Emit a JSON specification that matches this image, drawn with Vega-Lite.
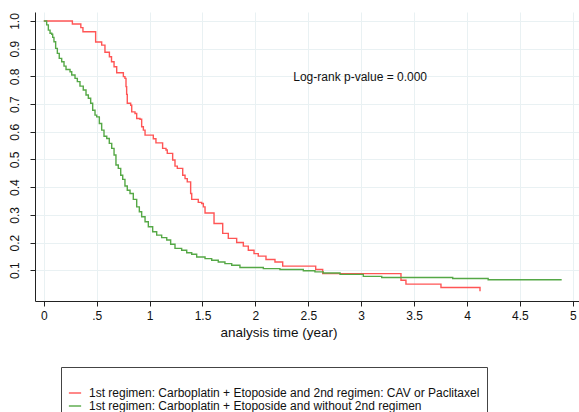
{
  "$schema": "https://vega.github.io/schema/vega-lite/v6.json",
  "width": 544,
  "height": 289,
  "autosize": "none",
  "padding": {"left": 35, "top": 12, "right": 0, "bottom": 111},
  "background": "white",
  "config": {
    "font": "Liberation Sans",
    "view": {"stroke": null},
    "axis": {
      "gridColor": "#e9f1f3", "gridWidth": 1, "domainColor": "#222", "tickColor": "#222",
      "labelColor": "#111", "titleColor": "#111", "labelFont": "Liberation Sans", "titleFont": "Liberation Sans"
    }
  },
  "layer": [
    {
      "data": {"values": [
        {"g":"A","t":0,"s":1.0},{"g":"A","t":0.27,"s":0.989},{"g":"A","t":0.35,"s":0.976},{"g":"A","t":0.37,"s":0.961},
        {"g":"A","t":0.49,"s":0.924},{"g":"A","t":0.547,"s":0.913},{"g":"A","t":0.578,"s":0.887},{"g":"A","t":0.62,"s":0.871},
        {"g":"A","t":0.64,"s":0.853},{"g":"A","t":0.664,"s":0.835},{"g":"A","t":0.689,"s":0.813},{"g":"A","t":0.752,"s":0.799},
        {"g":"A","t":0.767,"s":0.793},{"g":"A","t":0.777,"s":0.763},{"g":"A","t":0.783,"s":0.735},{"g":"A","t":0.789,"s":0.703},
        {"g":"A","t":0.821,"s":0.696},{"g":"A","t":0.831,"s":0.672},{"g":"A","t":0.862,"s":0.666},{"g":"A","t":0.878,"s":0.648},
        {"g":"A","t":0.909,"s":0.645},{"g":"A","t":0.925,"s":0.618},{"g":"A","t":0.941,"s":0.606},{"g":"A","t":0.957,"s":0.588},
        {"g":"A","t":1.035,"s":0.575},{"g":"A","t":1.06,"s":0.56},{"g":"A","t":1.123,"s":0.54},{"g":"A","t":1.155,"s":0.534},
        {"g":"A","t":1.167,"s":0.522},{"g":"A","t":1.218,"s":0.498},{"g":"A","t":1.24,"s":0.476},{"g":"A","t":1.262,"s":0.468},
        {"g":"A","t":1.313,"s":0.443},{"g":"A","t":1.335,"s":0.431},{"g":"A","t":1.356,"s":0.419},{"g":"A","t":1.388,"s":0.377},
        {"g":"A","t":1.398,"s":0.356},{"g":"A","t":1.46,"s":0.345},{"g":"A","t":1.492,"s":0.341},{"g":"A","t":1.508,"s":0.329},
        {"g":"A","t":1.524,"s":0.307},{"g":"A","t":1.609,"s":0.269},{"g":"A","t":1.691,"s":0.233},{"g":"A","t":1.744,"s":0.215},
        {"g":"A","t":1.823,"s":0.2},{"g":"A","t":1.886,"s":0.187},{"g":"A","t":1.933,"s":0.172},{"g":"A","t":1.987,"s":0.16},
        {"g":"A","t":2.027,"s":0.151},{"g":"A","t":2.1,"s":0.139},{"g":"A","t":2.185,"s":0.13},{"g":"A","t":2.258,"s":0.115},
        {"g":"A","t":2.57,"s":0.103},{"g":"A","t":2.636,"s":0.088},{"g":"A","t":3.376,"s":0.064},{"g":"A","t":3.423,"s":0.05},
        {"g":"A","t":3.754,"s":0.038},{"g":"A","t":4.123,"s":0.024},
        {"g":"B","t":0,"s":1.0},{"g":"B","t":0.027,"s":0.986},{"g":"B","t":0.043,"s":0.967},{"g":"B","t":0.059,"s":0.956},
        {"g":"B","t":0.075,"s":0.952},{"g":"B","t":0.084,"s":0.941},{"g":"B","t":0.096,"s":0.925},{"g":"B","t":0.112,"s":0.901},
        {"g":"B","t":0.128,"s":0.883},{"g":"B","t":0.146,"s":0.865},{"g":"B","t":0.169,"s":0.853},{"g":"B","t":0.191,"s":0.837},
        {"g":"B","t":0.21,"s":0.825},{"g":"B","t":0.248,"s":0.817},{"g":"B","t":0.264,"s":0.805},{"g":"B","t":0.295,"s":0.793},
        {"g":"B","t":0.317,"s":0.781},{"g":"B","t":0.342,"s":0.765},{"g":"B","t":0.373,"s":0.751},{"g":"B","t":0.399,"s":0.733},
        {"g":"B","t":0.421,"s":0.721},{"g":"B","t":0.443,"s":0.703},{"g":"B","t":0.462,"s":0.678},{"g":"B","t":0.484,"s":0.66},
        {"g":"B","t":0.5,"s":0.654},{"g":"B","t":0.525,"s":0.63},{"g":"B","t":0.547,"s":0.606},{"g":"B","t":0.569,"s":0.584},
        {"g":"B","t":0.595,"s":0.576},{"g":"B","t":0.619,"s":0.558},{"g":"B","t":0.642,"s":0.54},{"g":"B","t":0.664,"s":0.516},
        {"g":"B","t":0.682,"s":0.48},{"g":"B","t":0.704,"s":0.468},{"g":"B","t":0.727,"s":0.443},{"g":"B","t":0.746,"s":0.428},
        {"g":"B","t":0.767,"s":0.404},{"g":"B","t":0.789,"s":0.389},{"g":"B","t":0.815,"s":0.377},{"g":"B","t":0.846,"s":0.356},
        {"g":"B","t":0.878,"s":0.329},{"g":"B","t":0.903,"s":0.311},{"g":"B","t":0.925,"s":0.293},{"g":"B","t":0.957,"s":0.275},
        {"g":"B","t":0.988,"s":0.257},{"g":"B","t":1.029,"s":0.239},{"g":"B","t":1.067,"s":0.227},{"g":"B","t":1.114,"s":0.218},
        {"g":"B","t":1.162,"s":0.209},{"g":"B","t":1.199,"s":0.194},{"g":"B","t":1.24,"s":0.179},{"g":"B","t":1.303,"s":0.172},
        {"g":"B","t":1.351,"s":0.163},{"g":"B","t":1.398,"s":0.158},{"g":"B","t":1.445,"s":0.148},{"g":"B","t":1.524,"s":0.142},
        {"g":"B","t":1.587,"s":0.136},{"g":"B","t":1.649,"s":0.13},{"g":"B","t":1.712,"s":0.124},{"g":"B","t":1.776,"s":0.118},
        {"g":"B","t":1.854,"s":0.11},{"g":"B","t":2.075,"s":0.106},{"g":"B","t":2.232,"s":0.103},{"g":"B","t":2.453,"s":0.098},
        {"g":"B","t":2.563,"s":0.094},{"g":"B","t":2.642,"s":0.09},{"g":"B","t":2.8,"s":0.085},{"g":"B","t":3.02,"s":0.078},
        {"g":"B","t":3.194,"s":0.074},{"g":"B","t":3.865,"s":0.07},{"g":"B","t":4.2,"s":0.066},{"g":"B","t":4.895,"s":0.066}
      ]},
      "mark": {"type": "line", "interpolate": "step-after", "strokeWidth": 1.4},
      "encoding": {
        "x": {
          "field": "t", "type": "quantitative",
          "scale": {"domain": [-0.0832, 5.0587], "nice": false, "zero": false},
          "axis": {
            "values": [0, 0.5, 1, 1.5, 2, 2.5, 3, 3.5, 4, 4.5, 5], "tickCount": 20,
            "labelExpr": "datum.value == 0.5 ? '.5' : format(datum.value, '~g')",
            "labelOverlap": false, "labelFlush": false,
            "title": "analysis time (year)", "titleFontSize": 13.5, "titleFontWeight": "normal",
            "titleX": 243.5, "titleY": 31.5, "titleBaseline": "middle", "titleAlign": "center",
            "labelFontSize": 12, "tickSize": 5, "labelPadding": 4, "grid": true
          }
        },
        "y": {
          "field": "s", "type": "quantitative",
          "scale": {"domain": [-0.011, 1.0325], "nice": false, "zero": false},
          "axis": {
            "values": [0.1, 0.2, 0.3, 0.4, 0.5, 0.6, 0.7, 0.8, 0.9, 1.0], "tickCount": 20,
            "format": ".1f", "labelAngle": -90, "labelFontSize": 12, "tickSize": 5, "labelPadding": 9,
            "labelOverlap": false, "labelFlush": false,
            "title": null, "grid": true
          }
        },
        "color": {
          "field": "g", "type": "nominal",
          "scale": {"domain": ["A", "B"], "range": ["#ff5555", "#55a846"]},
          "legend": {
            "orient": "none", "legendX": 26, "legendY": 355, "direction": "vertical",
            "title": " ", "titleFontSize": 8, "titlePadding": 4,
            "labelExpr": "datum.value == 'A' ? '1st regimen: Carboplatin + Etoposide and 2nd regimen: CAV or Paclitaxel' : '1st regimen: Carboplatin + Etoposide and without 2nd regimen'",
            "labelFontSize": 12, "labelColor": "#111", "labelLimit": 600,
            "symbolType": "stroke", "symbolSize": 150, "symbolStrokeWidth": 1.4, "labelOffset": 7,
            "strokeColor": "#444", "padding": 7, "rowPadding": -4
          }
        }
      }
    },
    {
      "data": {"values": [{"t": 2.358, "s": 0.799, "label": "Log-rank p-value = 0.000"}]},
      "mark": {"type": "text", "align": "left", "baseline": "middle", "fontSize": 12, "color": "#111"},
      "encoding": {
        "x": {"field": "t", "type": "quantitative"},
        "y": {"field": "s", "type": "quantitative"},
        "text": {"field": "label"}
      }
    }
  ]
}
